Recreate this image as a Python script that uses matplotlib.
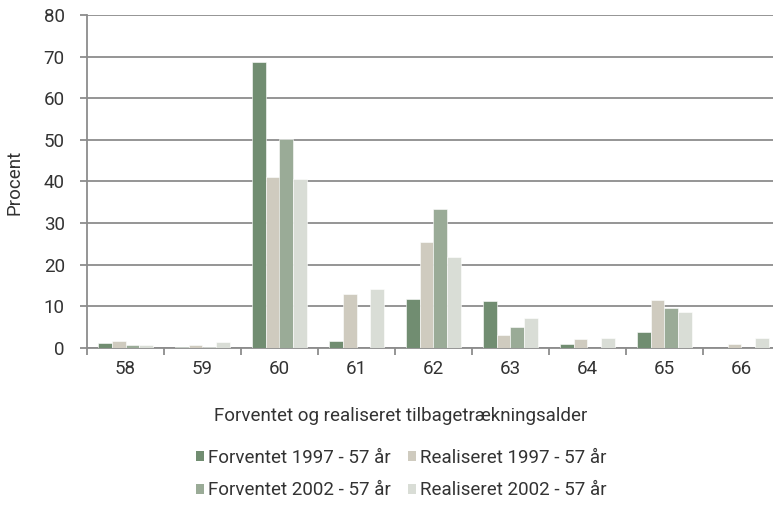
import matplotlib
matplotlib.use("Agg")
import matplotlib.pyplot as plt
import numpy as np
from matplotlib.patches import Patch

plt.rcParams['font.family'] = ['Roboto', 'DejaVu Sans']

categories = ["58", "59", "60", "61", "62", "63", "64", "65", "66"]
series_names = ["Forventet 1997 - 57 år", "Realiseret 1997 - 57 år",
                "Forventet 2002 - 57 år", "Realiseret 2002 - 57 år"]
forv_1997 = [1.2, 0.2, 68.7, 1.7, 11.8, 11.3, 1.0, 3.8, 0.0]
real_1997 = [1.6, 0.7, 41.0, 13.0, 25.5, 3.1, 2.1, 11.5, 1.0]
forv_2002 = [0.8, 0.2, 50.2, 0.0, 33.3, 5.0, 0.0, 9.7, 0.0]
real_2002 = [0.7, 1.4, 40.6, 14.2, 21.8, 7.2, 2.3, 8.7, 2.3]
y_ticks = [0, 10, 20, 30, 40, 50, 60, 70, 80]

series = [forv_1997, real_1997, forv_2002, real_2002]
colors = ["#718d71", "#cfcbbf", "#9aab97", "#d9ddd6"]
FS = 13.5
TXT = '#333333'

W, H = 773, 505
fig = plt.figure(figsize=(W / 100, H / 100), dpi=100)
left, right, top, bottom = 87, 780, 15, 348
ax = fig.add_axes([left / W, 1 - bottom / H, (right - left) / W, (bottom - top) / H])

x = np.arange(len(categories))
bw = 0.18
for i, (vals, c) in enumerate(zip(series, colors)):
    ax.bar(x + (i - 1.5) * bw, vals, width=bw, color=c, edgecolor='white',
           linewidth=0.4, zorder=3)

ax.set_xlim(-0.5, len(categories) - 0.5)
ax.set_ylim(0, 80)
ax.set_yticks(y_ticks)
ax.yaxis.grid(True, color='#8c8c8c', linewidth=1.3, zorder=0)
ax.set_axisbelow(True)
for s in ['top', 'right']:
    ax.spines[s].set_visible(False)
for s in ['left', 'bottom']:
    ax.spines[s].set_color('#8c8c8c')
    ax.spines[s].set_linewidth(1.3)

ax.set_xticks(x)
ax.set_xticklabels(categories)
ax.set_xticks(np.arange(len(categories) + 1) - 0.5, minor=True)
ax.tick_params(axis='x', which='major', length=0, pad=9, labelsize=FS, labelcolor=TXT)
ax.tick_params(axis='x', which='minor', length=5, width=1.3, color='#8c8c8c', direction='out')
ax.tick_params(axis='y', length=5, width=1.3, color='#8c8c8c', pad=11, labelsize=FS, labelcolor=TXT)

fig.text(15 / W, 1 - 182 / H, "Procent", rotation=90, ha='center', va='center',
         fontsize=FS, color=TXT)
fig.text(401 / W, 1 - 416 / H, "Forventet og realiseret tilbagetrækningsalder",
         ha='center', va='center', fontsize=FS, color=TXT)

order = [0, 2, 1, 3]
handles = [Patch(facecolor=colors[i], edgecolor='none') for i in order]
labels = [series_names[i] for i in order]
leg = fig.legend(handles, labels, ncol=2, loc='center',
                 bbox_to_anchor=(401 / W, 1 - 474 / H), frameon=False,
                 fontsize=FS, handlelength=0.45, handleheight=0.45,
                 handletextpad=0.2, columnspacing=0.9, labelspacing=0.78,
                 borderpad=0, borderaxespad=0)
for t in leg.get_texts():
    t.set_color(TXT)

fig.savefig("out.png", dpi=100)
